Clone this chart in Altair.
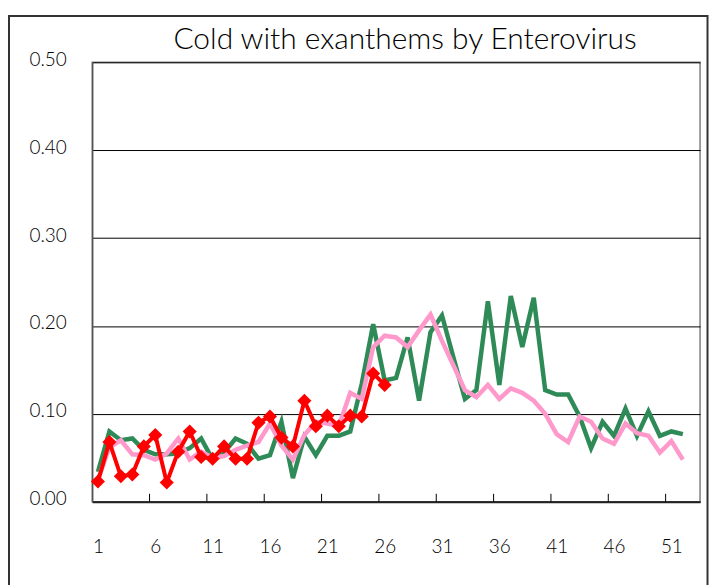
import altair as alt
import pandas as pd

weeks = list(range(1, 53))
green = [0.034, 0.080, 0.070, 0.072, 0.059, 0.054, 0.054, 0.055, 0.061, 0.072,
         0.048, 0.056, 0.072, 0.066, 0.049, 0.053, 0.091, 0.027, 0.074, 0.053,
         0.075, 0.075, 0.080, 0.134, 0.202, 0.138, 0.141, 0.187, 0.115, 0.193,
         0.212, 0.164, 0.117, 0.127, 0.228, 0.133, 0.234, 0.176, 0.232, 0.127,
         0.122, 0.122, 0.097, 0.061, 0.091, 0.075, 0.106, 0.075, 0.103, 0.075,
         0.080, 0.077]
pink = [0.025, 0.062, 0.070, 0.054, 0.053, 0.048, 0.055, 0.072, 0.048, 0.057,
        0.050, 0.052, 0.059, 0.064, 0.068, 0.089, 0.064, 0.048, 0.076, 0.091,
        0.089, 0.086, 0.124, 0.117, 0.176, 0.189, 0.187, 0.176, 0.195, 0.213,
        0.183, 0.155, 0.127, 0.119, 0.133, 0.117, 0.129, 0.124, 0.115, 0.100,
        0.077, 0.068, 0.097, 0.091, 0.072, 0.066, 0.089, 0.078, 0.075, 0.056,
        0.069, 0.048]
red_weeks = list(range(1, 27))
red = [0.023, 0.068, 0.029, 0.031, 0.063, 0.076, 0.022, 0.057, 0.080, 0.051,
       0.049, 0.063, 0.049, 0.049, 0.090, 0.097, 0.073, 0.063, 0.115, 0.086,
       0.098, 0.086, 0.098, 0.097, 0.146, 0.133]
x_labels = [1, 6, 11, 16, 21, 26, 31, 36, 41, 46, 51]
tick_bounds = [5.5, 10.5, 15.5, 20.5, 25.5, 30.5, 35.5, 40.5, 45.5, 50.5]
y_ticks = [0.0, 0.1, 0.2, 0.3, 0.4, 0.5]
title_text = "Cold with exanthems by Enterovirus"

FONT = "Lato"
W, H = 610, 441

x_scale = alt.Scale(domain=[0.5, 53.5], nice=False, zero=False)
y_scale = alt.Scale(domain=[0, 0.5], nice=False)

x_axis = alt.Axis(values=x_labels, title=None, grid=False, ticks=False,
                  labelFontSize=19, labelPadding=36, labelFont=FONT,
                  labelFontWeight=300,
                  labelColor="black", domainColor="#222222", domainWidth=2)
y_axis = alt.Axis(values=y_ticks, format=".2f", title=None, grid=True,
                  gridColor="black", gridWidth=1, ticks=False,
                  labelFontSize=19, labelPadding=26, labelFont=FONT,
                  labelFontWeight=300,
                  labelColor="black", labelOffset=-3,
                  domainColor="#555555", domainWidth=1.5)

df_g = pd.DataFrame({"week": weeks, "value": green})
df_p = pd.DataFrame({"week": weeks, "value": pink})
df_r = pd.DataFrame({"week": red_weeks, "value": red})
df_t = pd.DataFrame({"b": tick_bounds})

green_line = alt.Chart(df_g).mark_line(color="#2E8B57", strokeWidth=4.5).encode(
    x=alt.X("week:Q", scale=x_scale, axis=x_axis),
    y=alt.Y("value:Q", scale=y_scale, axis=y_axis),
)
pink_line = alt.Chart(df_p).mark_line(color="#FF99CC", strokeWidth=4.5).encode(
    x=alt.X("week:Q", scale=x_scale),
    y=alt.Y("value:Q", scale=y_scale),
)
red_line = alt.Chart(df_r).mark_line(
    color="#FF0000", strokeWidth=4,
    point=alt.OverlayMarkDef(shape="diamond", size=200, color="#FF0000", filled=True, opacity=1),
).encode(
    x=alt.X("week:Q", scale=x_scale),
    y=alt.Y("value:Q", scale=y_scale),
)
ticks = alt.Chart(df_t).mark_rule(color="black", strokeWidth=1).encode(
    x=alt.X("b:Q", scale=x_scale),
    y=alt.value(H - 8),
    y2=alt.value(H),
)
border = alt.Chart(pd.DataFrame({"a": [0]})).mark_rect(
    fillOpacity=0, stroke="#333333", strokeWidth=2
).encode(
    x=alt.value(-83.5), x2=alt.value(617.5), y=alt.value(-46.5), y2=alt.value(560)
)
title = alt.Chart(pd.DataFrame({"t": [title_text]})).mark_text(
    font=FONT, fontSize=30, fontWeight=300, color="black",
    align="center", baseline="middle"
).encode(
    text="t:N", x=alt.value(W / 2 + 9), y=alt.value(-22)
)

chart = alt.layer(ticks, green_line, pink_line, red_line, border, title).properties(
    width=W, height=H,
    autosize=alt.AutoSizeParams(type="none"),
    padding={"left": 84.5, "top": 53.5, "right": 10, "bottom": 83},
).configure_view(stroke="#7f7f7f", strokeWidth=1.5)

chart.save("out.html", embed_options={"renderer": "svg", "actions": False})
